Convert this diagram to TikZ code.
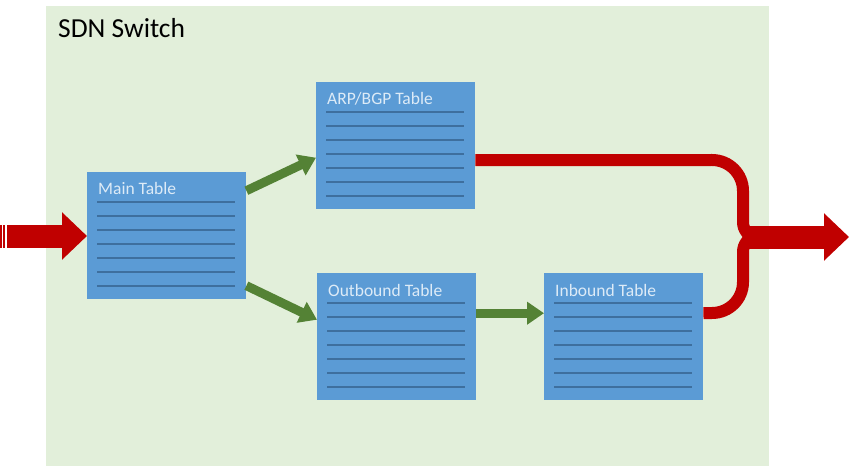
\documentclass[tikz,border=0pt]{standalone}
\usepackage{fontspec}
\setmainfont{Carlito}
\usetikzlibrary{arrows.meta}
\definecolor{bggreen}{HTML}{E2EFDA}
\definecolor{boxblue}{HTML}{5B9BD5}
\definecolor{rulecol}{HTML}{3E6F9E}
\definecolor{ttlcol}{HTML}{DDEBF7}
\definecolor{arrgreen}{HTML}{548235}
\definecolor{arrred}{HTML}{C00000}
\tikzset{
  tbl/.style={fill=boxblue, minimum width=159pt, minimum height=127pt, inner sep=0pt, anchor=north west,
    path picture={\foreach \k in {0,...,6}{
      \draw[rulecol, line width=1.5pt]
        ([xshift=10pt,yshift={-(30+14*\k)*1pt}]path picture bounding box.north west) --
        ([xshift=-11pt,yshift={-(30+14*\k)*1pt}]path picture bounding box.north east);}}},
  ttl/.style={anchor=base west, inner sep=0pt, text=ttlcol, font=\fontsize{17.5}{20}\selectfont},
  garrow/.style={draw=arrgreen, line width=9pt, -{Triangle[width=22pt,length=17pt]}},
  bigred/.style={draw=arrred, line width=23pt, -{Triangle[width=46pt,length=25pt]}},
  redline/.style={draw=arrred, line width=12pt},
}
\begin{document}
\begin{tikzpicture}[x=1pt,y=-1pt]
\useasboundingbox (0,0) rectangle (856,473);
\fill[bggreen] (46,6) rectangle (769,466);
\node[anchor=base west, inner sep=0pt, font=\fontsize{27.5}{30}\selectfont] (title) at (58,38) {SDN Switch};

\node[tbl] (main) at (87,172) {};
\node[tbl] (arp) at (316,82) {};
\node[tbl] (outb) at (317,273) {};
\node[tbl] (inb) at (544,273) {};

\node[ttl] (tmain) at ([xshift=11pt,yshift=-23pt]main.north west) {Main Table};
\node[ttl] (tarp) at ([xshift=11pt,yshift=-23pt]arp.north west) {ARP/BGP Table};
\node[ttl] (toutb) at ([xshift=11pt,yshift=-23pt]outb.north west) {Outbound Table};
\node[ttl] (tinb) at ([xshift=11pt,yshift=-23pt]inb.north west) {Inbound Table};

% input arrow
\coordinate (in) at (7,236);
\draw[bigred] (in) -- (in -| main.west);
\fill[arrred] (0,224.5) rectangle (1.8,247.5);
\fill[arrred] (3.4,224.5) rectangle (5.3,247.5);

% green arrows
\draw[garrow] ([yshift=45pt]main.east) -- ([yshift=-12pt]arp.west);
\draw[garrow] ([yshift=-50pt]main.east) -- ([yshift=17pt]outb.west);
\draw[garrow] ([yshift=23.5pt]outb.east) -- ([yshift=23.5pt]inb.west);

% red brace
\coordinate (j) at (756,237);
\coordinate (out) at (849,237);
\draw[redline] ([yshift=-14.5pt]arp.east) -- (712,160) to[out=0,in=90] (743,191) -- (743,222) to[out=-90,in=180] (j);
\draw[redline] ([yshift=23.5pt]inb.east) -- (712,313) to[out=0,in=-90] (743,282) -- (743,252) to[out=90,in=180] (j);
\draw[bigred] ([xshift=-8pt]j) -- (out);
\end{tikzpicture}
\end{document}
